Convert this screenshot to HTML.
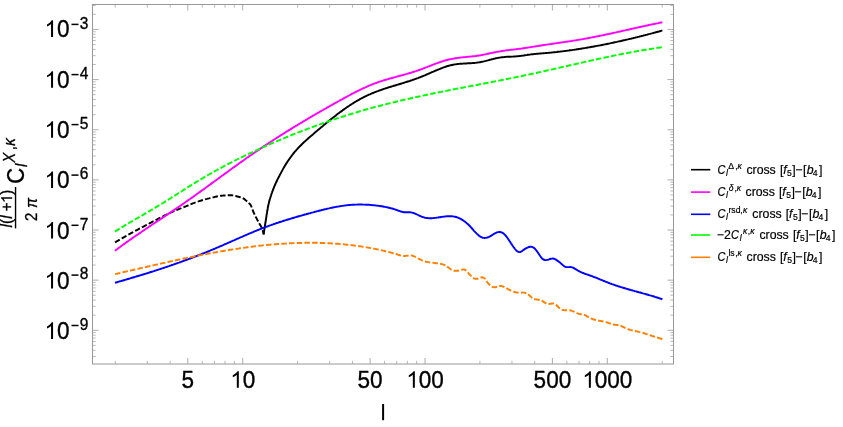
<!DOCTYPE html>
<html><head><meta charset="utf-8"><title>plot</title>
<style>
html,body{margin:0;padding:0;background:#fff;}
body{width:843px;height:427px;overflow:hidden;}
svg{display:block;font-family:"Liberation Sans",sans-serif;}
svg text{filter:grayscale(1);}
</style></head><body>
<svg width="843" height="427" viewBox="0 0 843 427">
<rect width="843" height="427" fill="#fff"/>
<g fill="none" stroke-width="1.95" stroke-linejoin="round">
<path d="M115.0,242.3 L115.9,241.8 L116.7,241.3 L117.6,240.8 L118.5,240.3 L119.3,239.8 L120.2,239.3 L121.1,238.8 L121.9,238.3 L122.8,237.8 L123.7,237.3 L124.6,236.8 L125.4,236.3 L126.3,235.9 L127.2,235.4 L128.0,234.9 L128.9,234.4 L129.8,233.9 L130.7,233.4 L131.5,232.9 L132.4,232.5 L133.3,232.0 L134.2,231.5 L135.0,231.0 L135.9,230.5 L136.8,230.1 L137.7,229.6 L138.6,229.1 L139.4,228.6 L140.3,228.2 L141.2,227.7 L142.1,227.2 L143.0,226.8 L143.9,226.3 L144.7,225.8 L145.6,225.4 L146.5,224.9 L147.4,224.4 L148.3,224.0 L149.2,223.5 L150.0,223.0 L150.9,222.6 L151.8,222.1 L152.7,221.6 L153.6,221.2 L154.5,220.7 L155.4,220.3 L156.3,219.8 L157.2,219.4 L158.0,218.9 L158.9,218.4 L159.8,218.0 L160.7,217.5 L161.6,217.1 L162.5,216.6 L163.4,216.2 L164.3,215.7 L165.2,215.2 L166.1,214.8 L167.0,214.3 L167.9,213.9 L168.7,213.5 L169.6,213.0 L170.6,212.6 L171.5,212.2 L172.4,211.8 L173.3,211.4 L174.2,211.0 L175.1,210.6 L176.0,210.2 L177.0,209.8 L177.9,209.5 L178.8,209.1 L179.8,208.7 L180.7,208.4 L181.6,208.0 L182.6,207.6 L183.5,207.3 L184.4,206.9 L185.4,206.5 L186.3,206.2 L187.2,205.8 L188.1,205.4 L189.1,205.0 L190.0,204.6 L190.9,204.2 L191.8,203.8 L192.7,203.4 L193.7,203.1 L194.6,202.7 L195.5,202.4 L196.5,202.0 L197.4,201.7 L198.4,201.4 L199.3,201.1 L200.3,200.8 L201.2,200.5 L202.2,200.2 L203.2,200.0 L204.1,199.7 L205.1,199.4 L206.0,199.1 L207.0,198.9 L208.0,198.6 L209.0,198.4 L209.9,198.1 L210.9,197.9 L211.9,197.6 L212.8,197.4 L213.8,197.2 L214.8,196.9 L215.8,196.7 L216.7,196.5 L217.7,196.3 L218.7,196.1 L219.7,195.9 L220.7,195.8 L221.7,195.7 L222.7,195.6 L223.7,195.5 L224.7,195.4 L225.7,195.4 L226.7,195.3 L227.7,195.3 L228.7,195.2 L229.7,195.2 L230.7,195.2 L231.6,195.3 L232.6,195.4 L233.6,195.6 L234.6,195.8 L235.6,196.0 L236.6,196.3 L237.5,196.5 L238.5,196.8 L239.5,197.0 L240.5,197.3 L241.4,197.6 L242.4,198.0 L243.2,198.4 L244.1,198.9 L244.9,199.5 L245.6,200.2 L246.4,200.8 L247.2,201.5 L247.9,202.2 L248.7,202.9 L249.4,203.6 L250.1,204.3 L250.6,205.1 L251.1,205.9 L251.5,206.8 L251.9,207.7 L252.2,208.7 L252.5,209.7 L252.9,210.6 L253.3,211.6 L253.6,212.5 L254.1,213.4 L254.5,214.3 L254.9,215.2 L255.4,216.1 L255.8,217.0 L256.3,217.9 L256.8,218.8 L257.2,219.7 L257.7,220.5 L258.1,221.4 L258.6,222.3 L259.1,223.2 L259.6,224.1 L260.1,224.9 L260.7,225.8 L261.2,226.7 L261.6,227.6 L262.0,228.5 L262.4,229.4 L262.7,230.3 L262.9,231.3 L263.2,232.2 L263.4,233.2 L263.6,234.2 L263.6,234.4" stroke="#000" stroke-dasharray="5.5 2.2"/>
<path d="M263.6,234.4 L263.8,233.4 L263.9,232.4 L264.1,231.4 L264.2,230.4 L264.4,229.5 L264.5,228.5 L264.7,227.5 L264.8,226.5 L265.0,225.5 L265.1,224.5 L265.3,223.5 L265.5,222.5 L265.6,221.6 L265.8,220.6 L265.9,219.6 L266.1,218.6 L266.2,217.6 L266.4,216.6 L266.5,215.6 L266.7,214.6 L266.8,213.6 L267.0,212.7 L267.1,211.7 L267.3,210.7 L267.5,209.7 L267.7,208.7 L267.8,207.7 L268.0,206.8 L268.2,205.8 L268.4,204.8 L268.7,203.8 L268.9,202.8 L269.1,201.9 L269.4,200.9 L269.6,199.9 L269.9,199.0 L270.2,198.0 L270.5,197.1 L270.8,196.1 L271.1,195.2 L271.4,194.2 L271.7,193.3 L272.1,192.3 L272.4,191.4 L272.8,190.4 L273.1,189.5 L273.5,188.6 L273.9,187.7 L274.2,186.7 L274.6,185.8 L275.0,184.9 L275.4,184.0 L275.8,183.1 L276.2,182.2 L276.7,181.3 L277.1,180.3 L277.5,179.4 L278.0,178.5 L278.4,177.7 L278.9,176.8 L279.4,175.9 L279.8,175.0 L279.9,174.9 L283.9,167.4 L284.9,165.7 L285.9,164.1 L286.9,162.6 L287.9,161.0 L288.9,159.6 L289.9,158.2 L290.9,156.8 L291.9,155.5 L292.9,154.2 L293.9,152.9 L294.9,151.7 L295.9,150.6 L296.9,149.4 L297.9,148.3 L298.9,147.3 L299.9,146.2 L300.9,145.2 L301.9,144.2 L302.9,143.3 L303.9,142.3 L304.9,141.4 L305.9,140.5 L306.9,139.6 L307.9,138.7 L308.9,137.8 L309.9,136.9 L310.9,136.1 L311.9,135.2 L312.9,134.4 L313.9,133.5 L314.9,132.6 L315.9,131.8 L316.9,130.9 L317.9,130.1 L318.9,129.2 L319.9,128.4 L320.9,127.6 L321.9,126.7 L322.9,125.9 L323.9,125.0 L324.9,124.2 L325.9,123.4 L326.9,122.6 L327.9,121.7 L328.9,120.9 L329.9,120.1 L330.9,119.3 L331.9,118.5 L332.9,117.7 L333.9,116.9 L334.9,116.2 L335.9,115.4 L336.9,114.6 L337.9,113.8 L338.9,113.1 L339.9,112.3 L340.9,111.6 L341.9,110.9 L342.9,110.1 L343.9,109.4 L344.9,108.7 L345.9,108.0 L346.9,107.3 L347.9,106.6 L348.9,106.0 L349.9,105.3 L350.9,104.6 L351.9,104.0 L352.9,103.4 L353.9,102.7 L354.9,102.1 L355.9,101.5 L356.9,100.9 L357.9,100.3 L358.9,99.8 L359.9,99.2 L360.9,98.7 L361.9,98.1 L362.9,97.6 L363.9,97.1 L364.9,96.6 L365.9,96.1 L366.9,95.6 L367.9,95.2 L368.9,94.7 L369.9,94.3 L370.9,93.8 L371.9,93.4 L372.9,93.0 L373.9,92.6 L374.9,92.2 L375.9,91.8 L376.9,91.4 L377.9,91.1 L378.9,90.7 L379.9,90.3 L380.9,90.0 L381.9,89.6 L382.9,89.3 L383.9,88.9 L384.9,88.6 L385.9,88.3 L386.9,88.0 L387.9,87.6 L388.9,87.3 L389.9,87.0 L390.9,86.7 L391.9,86.4 L392.9,86.1 L393.9,85.8 L394.9,85.5 L395.9,85.2 L396.9,84.9 L397.9,84.6 L398.9,84.3 L399.9,84.0 L400.9,83.7 L401.9,83.4 L402.9,83.1 L403.9,82.8 L404.9,82.4 L405.9,82.1 L406.9,81.8 L407.9,81.5 L408.9,81.2 L409.9,80.9 L410.9,80.5 L411.9,80.2 L412.9,79.8 L413.9,79.5 L414.9,79.1 L415.9,78.8 L416.9,78.4 L417.9,78.1 L418.9,77.7 L419.9,77.3 L420.9,76.9 L421.9,76.5 L422.9,76.1 L423.9,75.7 L424.9,75.3 L425.9,74.8 L426.9,74.4 L427.9,74.0 L428.9,73.5 L429.9,73.1 L430.9,72.7 L431.9,72.2 L432.9,71.8 L433.9,71.4 L434.9,70.9 L435.9,70.5 L436.9,70.1 L437.9,69.7 L438.9,69.3 L439.9,68.9 L440.9,68.5 L441.9,68.1 L442.9,67.7 L443.9,67.3 L444.9,67.0 L445.9,66.6 L446.9,66.3 L447.9,66.0 L448.9,65.7 L449.9,65.4 L450.9,65.2 L451.9,65.0 L452.9,64.8 L453.9,64.6 L454.9,64.4 L455.9,64.3 L456.9,64.1 L457.9,64.0 L458.9,63.9 L459.9,63.8 L460.9,63.7 L461.9,63.7 L462.9,63.6 L463.9,63.5 L464.9,63.5 L465.9,63.4 L466.9,63.4 L467.9,63.3 L468.9,63.3 L469.9,63.2 L470.9,63.2 L471.9,63.1 L472.9,63.0 L473.9,62.9 L474.9,62.9 L475.9,62.8 L476.9,62.6 L477.9,62.5 L478.9,62.4 L479.9,62.2 L480.9,62.0 L481.9,61.8 L482.9,61.6 L483.9,61.4 L484.9,61.1 L485.9,60.9 L486.9,60.6 L487.9,60.4 L488.9,60.1 L489.9,59.8 L490.9,59.6 L491.9,59.3 L492.9,59.1 L493.9,58.8 L494.9,58.6 L495.9,58.3 L496.9,58.1 L497.9,57.9 L498.9,57.7 L499.9,57.6 L500.9,57.4 L501.9,57.3 L502.9,57.2 L503.9,57.1 L504.9,57.0 L505.9,56.9 L506.9,56.8 L507.9,56.8 L508.9,56.7 L509.9,56.7 L510.9,56.7 L511.9,56.6 L512.9,56.6 L513.9,56.5 L514.9,56.5 L515.9,56.4 L516.9,56.3 L517.9,56.2 L518.9,56.1 L519.9,56.0 L520.9,55.9 L521.9,55.7 L522.9,55.6 L523.9,55.5 L524.9,55.3 L525.9,55.1 L526.9,55.0 L527.9,54.8 L528.9,54.7 L529.9,54.6 L530.9,54.4 L531.9,54.3 L532.9,54.2 L533.9,54.1 L534.9,54.0 L535.9,53.9 L536.9,53.8 L537.9,53.7 L538.9,53.6 L539.9,53.5 L540.9,53.5 L541.9,53.4 L542.9,53.3 L543.9,53.2 L544.9,53.1 L545.9,53.0 L546.9,53.0 L547.9,52.9 L548.9,52.8 L549.9,52.7 L550.9,52.6 L551.9,52.5 L552.9,52.4 L553.9,52.3 L554.9,52.2 L555.9,52.1 L556.9,52.0 L557.9,51.8 L558.9,51.7 L559.9,51.6 L560.9,51.5 L561.9,51.4 L562.9,51.3 L563.9,51.1 L564.9,51.0 L565.9,50.9 L566.9,50.7 L567.9,50.6 L568.9,50.5 L569.9,50.3 L570.9,50.2 L571.9,50.1 L572.9,49.9 L573.9,49.8 L574.9,49.6 L575.9,49.5 L576.9,49.3 L577.9,49.2 L578.9,49.0 L579.9,48.9 L580.9,48.7 L581.9,48.5 L582.9,48.4 L583.9,48.2 L584.9,48.1 L585.9,47.9 L586.9,47.7 L587.9,47.5 L588.9,47.4 L589.9,47.2 L590.9,47.0 L591.9,46.8 L592.9,46.7 L593.9,46.5 L594.9,46.3 L595.9,46.1 L596.9,45.9 L597.9,45.7 L598.9,45.6 L599.9,45.4 L600.9,45.2 L601.9,45.0 L602.9,44.8 L603.9,44.6 L604.9,44.4 L605.9,44.2 L606.9,44.0 L607.9,43.8 L608.9,43.6 L609.9,43.4 L610.9,43.1 L611.9,42.9 L612.9,42.7 L613.9,42.5 L614.9,42.3 L615.9,42.1 L616.9,41.9 L617.9,41.6 L618.9,41.4 L619.9,41.2 L620.9,41.0 L621.9,40.7 L622.9,40.5 L623.9,40.3 L624.9,40.1 L625.9,39.8 L626.9,39.6 L627.9,39.4 L628.9,39.1 L629.9,38.9 L630.9,38.7 L631.9,38.4 L632.9,38.2 L633.9,37.9 L634.9,37.7 L635.9,37.4 L636.9,37.2 L637.9,36.9 L638.9,36.7 L639.9,36.4 L640.9,36.2 L641.9,35.9 L642.9,35.7 L643.9,35.4 L644.9,35.2 L645.9,34.9 L646.9,34.7 L647.9,34.4 L648.9,34.1 L649.9,33.9 L650.9,33.6 L651.9,33.4 L652.9,33.1 L653.9,32.8 L654.9,32.6 L655.9,32.3 L656.9,32.0 L657.9,31.7 L658.9,31.5 L659.9,31.2 L660.9,30.9 L661.9,30.6 L662.4,30.5" stroke="#000"/>
<path d="M115.0,250.7 L116.0,249.9 L117.0,249.2 L118.0,248.4 L119.0,247.7 L120.0,247.0 L121.0,246.2 L122.0,245.5 L123.0,244.8 L124.0,244.1 L125.0,243.4 L126.0,242.6 L127.0,241.9 L128.0,241.2 L129.0,240.5 L130.0,239.8 L131.0,239.1 L132.0,238.4 L133.0,237.7 L134.0,237.0 L135.0,236.3 L136.0,235.6 L137.0,234.9 L138.0,234.3 L139.0,233.6 L140.0,232.9 L141.0,232.2 L142.0,231.5 L143.0,230.9 L144.0,230.2 L145.0,229.5 L146.0,228.8 L147.0,228.1 L148.0,227.5 L149.0,226.8 L150.0,226.1 L151.0,225.5 L152.0,224.8 L153.0,224.1 L154.0,223.5 L155.0,222.8 L156.0,222.1 L157.0,221.5 L158.0,220.8 L159.0,220.1 L160.0,219.4 L161.0,218.8 L162.0,218.1 L163.0,217.4 L164.0,216.8 L165.0,216.1 L166.0,215.4 L167.0,214.8 L168.0,214.1 L169.0,213.4 L170.0,212.8 L171.0,212.1 L172.0,211.4 L173.0,210.7 L174.0,210.1 L175.0,209.4 L176.0,208.7 L177.0,208.0 L178.0,207.3 L179.0,206.7 L180.0,206.0 L181.0,205.3 L182.0,204.6 L183.0,203.9 L184.0,203.2 L185.0,202.5 L186.0,201.8 L187.0,201.1 L188.0,200.4 L189.0,199.7 L190.0,199.0 L191.0,198.3 L192.0,197.6 L193.0,196.9 L194.0,196.2 L195.0,195.5 L196.0,194.7 L197.0,194.0 L198.0,193.3 L199.0,192.6 L200.0,191.9 L201.0,191.1 L202.0,190.4 L203.0,189.7 L204.0,189.0 L205.0,188.2 L206.0,187.5 L207.0,186.8 L208.0,186.1 L209.0,185.3 L210.0,184.6 L211.0,183.9 L212.0,183.1 L213.0,182.4 L214.0,181.7 L215.0,180.9 L216.0,180.2 L217.0,179.5 L218.0,178.8 L219.0,178.0 L220.0,177.3 L221.0,176.6 L222.0,175.8 L223.0,175.1 L224.0,174.4 L225.0,173.6 L226.0,172.9 L227.0,172.2 L228.0,171.5 L229.0,170.7 L230.0,170.0 L231.0,169.3 L232.0,168.5 L233.0,167.8 L234.0,167.1 L235.0,166.4 L236.0,165.7 L237.0,164.9 L238.0,164.2 L239.0,163.5 L240.0,162.8 L241.0,162.1 L242.0,161.4 L243.0,160.7 L244.0,160.0 L245.0,159.2 L246.0,158.5 L247.0,157.8 L248.0,157.1 L249.0,156.4 L250.0,155.7 L251.0,155.0 L252.0,154.4 L253.0,153.7 L254.0,153.0 L255.0,152.3 L256.0,151.6 L257.0,150.9 L258.0,150.3 L259.0,149.6 L260.0,148.9 L261.0,148.2 L262.0,147.6 L263.0,146.9 L264.0,146.2 L265.0,145.6 L266.0,144.9 L267.0,144.2 L268.0,143.6 L269.0,142.9 L270.0,142.3 L271.0,141.6 L272.0,141.0 L273.0,140.3 L274.0,139.7 L275.0,139.0 L276.0,138.4 L277.0,137.7 L278.0,137.1 L279.0,136.5 L280.0,135.8 L281.0,135.2 L282.0,134.6 L283.0,133.9 L284.0,133.3 L285.0,132.7 L286.0,132.0 L287.0,131.4 L288.0,130.8 L289.0,130.2 L290.0,129.6 L291.0,128.9 L292.0,128.3 L293.0,127.7 L294.0,127.1 L295.0,126.5 L296.0,125.9 L297.0,125.3 L298.0,124.7 L299.0,124.1 L300.0,123.5 L301.0,122.9 L302.0,122.3 L303.0,121.7 L304.0,121.1 L305.0,120.5 L306.0,119.9 L307.0,119.3 L308.0,118.7 L309.0,118.1 L310.0,117.5 L311.0,116.9 L312.0,116.3 L313.0,115.7 L314.0,115.2 L315.0,114.6 L316.0,114.0 L317.0,113.4 L318.0,112.8 L319.0,112.3 L320.0,111.7 L321.0,111.1 L322.0,110.5 L323.0,110.0 L324.0,109.4 L325.0,108.8 L326.0,108.3 L327.0,107.7 L328.0,107.1 L329.0,106.6 L330.0,106.0 L331.0,105.4 L332.0,104.9 L333.0,104.3 L334.0,103.7 L335.0,103.2 L336.0,102.6 L337.0,102.1 L338.0,101.5 L339.0,101.0 L340.0,100.4 L341.0,99.9 L342.0,99.3 L343.0,98.8 L344.0,98.2 L345.0,97.7 L346.0,97.1 L347.0,96.6 L348.0,96.0 L349.0,95.5 L350.0,95.0 L351.0,94.4 L352.0,93.9 L353.0,93.4 L354.0,92.9 L355.0,92.4 L356.0,91.8 L357.0,91.3 L358.0,90.8 L359.0,90.3 L360.0,89.9 L361.0,89.4 L362.0,88.9 L363.0,88.4 L364.0,88.0 L365.0,87.5 L366.0,87.1 L367.0,86.6 L368.0,86.2 L369.0,85.7 L370.0,85.3 L371.0,84.9 L372.0,84.5 L373.0,84.1 L374.0,83.7 L375.0,83.3 L376.0,83.0 L377.0,82.6 L378.0,82.3 L379.0,81.9 L380.0,81.6 L381.0,81.3 L382.0,80.9 L383.0,80.6 L384.0,80.3 L385.0,80.0 L386.0,79.7 L387.0,79.4 L388.0,79.1 L389.0,78.8 L390.0,78.5 L391.0,78.3 L392.0,78.0 L393.0,77.7 L394.0,77.4 L395.0,77.2 L396.0,76.9 L397.0,76.6 L398.0,76.3 L399.0,76.1 L400.0,75.8 L401.0,75.5 L402.0,75.3 L403.0,75.0 L404.0,74.7 L405.0,74.4 L406.0,74.1 L407.0,73.9 L408.0,73.6 L409.0,73.3 L410.0,73.0 L411.0,72.7 L412.0,72.4 L413.0,72.0 L414.0,71.7 L415.0,71.4 L416.0,71.1 L417.0,70.7 L418.0,70.4 L419.0,70.0 L420.0,69.7 L421.0,69.3 L422.0,69.0 L423.0,68.6 L424.0,68.2 L425.0,67.8 L426.0,67.4 L427.0,67.1 L428.0,66.7 L429.0,66.3 L430.0,65.9 L431.0,65.5 L432.0,65.1 L433.0,64.7 L434.0,64.3 L435.0,63.9 L436.0,63.6 L437.0,63.2 L438.0,62.8 L439.0,62.5 L440.0,62.1 L441.0,61.8 L442.0,61.5 L443.0,61.1 L444.0,60.8 L445.0,60.5 L446.0,60.3 L447.0,60.0 L448.0,59.7 L449.0,59.5 L450.0,59.3 L451.0,59.1 L452.0,58.9 L453.0,58.7 L454.0,58.5 L455.0,58.3 L456.0,58.2 L457.0,58.0 L458.0,57.9 L459.0,57.8 L460.0,57.6 L461.0,57.5 L462.0,57.4 L463.0,57.3 L464.0,57.2 L465.0,57.1 L466.0,57.0 L467.0,56.9 L468.0,56.8 L469.0,56.7 L470.0,56.6 L471.0,56.5 L472.0,56.4 L473.0,56.3 L474.0,56.2 L475.0,56.1 L476.0,56.0 L477.0,55.8 L478.0,55.7 L479.0,55.5 L480.0,55.4 L481.0,55.2 L482.0,55.0 L483.0,54.8 L484.0,54.6 L485.0,54.4 L486.0,54.2 L487.0,53.9 L488.0,53.7 L489.0,53.5 L490.0,53.3 L491.0,53.1 L492.0,52.9 L493.0,52.7 L494.0,52.5 L495.0,52.3 L496.0,52.1 L497.0,51.9 L498.0,51.7 L499.0,51.6 L500.0,51.4 L501.0,51.2 L502.0,51.0 L503.0,50.9 L504.0,50.7 L505.0,50.6 L506.0,50.4 L507.0,50.3 L508.0,50.2 L509.0,50.1 L510.0,49.9 L511.0,49.8 L512.0,49.7 L513.0,49.6 L514.0,49.5 L515.0,49.4 L516.0,49.2 L517.0,49.1 L518.0,49.0 L519.0,48.9 L520.0,48.7 L521.0,48.6 L522.0,48.5 L523.0,48.3 L524.0,48.2 L525.0,48.0 L526.0,47.9 L527.0,47.7 L528.0,47.6 L529.0,47.4 L530.0,47.3 L531.0,47.1 L532.0,46.9 L533.0,46.8 L534.0,46.6 L535.0,46.5 L536.0,46.3 L537.0,46.1 L538.0,46.0 L539.0,45.8 L540.0,45.7 L541.0,45.5 L542.0,45.3 L543.0,45.2 L544.0,45.0 L545.0,44.9 L546.0,44.7 L547.0,44.6 L548.0,44.4 L549.0,44.3 L550.0,44.1 L551.0,44.0 L552.0,43.8 L553.0,43.7 L554.0,43.5 L555.0,43.4 L556.0,43.3 L557.0,43.1 L558.0,43.0 L559.0,42.8 L560.0,42.7 L561.0,42.5 L562.0,42.4 L563.0,42.2 L564.0,42.1 L565.0,41.9 L566.0,41.8 L567.0,41.7 L568.0,41.5 L569.0,41.4 L570.0,41.2 L571.0,41.1 L572.0,40.9 L573.0,40.7 L574.0,40.6 L575.0,40.4 L576.0,40.3 L577.0,40.1 L578.0,39.9 L579.0,39.8 L580.0,39.6 L581.0,39.4 L582.0,39.3 L583.0,39.1 L584.0,38.9 L585.0,38.7 L586.0,38.5 L587.0,38.4 L588.0,38.2 L589.0,38.0 L590.0,37.8 L591.0,37.6 L592.0,37.4 L593.0,37.2 L594.0,37.0 L595.0,36.8 L596.0,36.6 L597.0,36.4 L598.0,36.2 L599.0,36.0 L600.0,35.8 L601.0,35.6 L602.0,35.4 L603.0,35.2 L604.0,35.0 L605.0,34.8 L606.0,34.5 L607.0,34.3 L608.0,34.1 L609.0,33.9 L610.0,33.7 L611.0,33.5 L612.0,33.3 L613.0,33.0 L614.0,32.8 L615.0,32.6 L616.0,32.4 L617.0,32.1 L618.0,31.9 L619.0,31.7 L620.0,31.5 L621.0,31.3 L622.0,31.0 L623.0,30.8 L624.0,30.6 L625.0,30.4 L626.0,30.1 L627.0,29.9 L628.0,29.7 L629.0,29.5 L630.0,29.2 L631.0,29.0 L632.0,28.8 L633.0,28.6 L634.0,28.3 L635.0,28.1 L636.0,27.9 L637.0,27.7 L638.0,27.4 L639.0,27.2 L640.0,27.0 L641.0,26.8 L642.0,26.6 L643.0,26.3 L644.0,26.1 L645.0,25.9 L646.0,25.7 L647.0,25.5 L648.0,25.2 L649.0,25.0 L650.0,24.8 L651.0,24.6 L652.0,24.4 L653.0,24.2 L654.0,24.0 L655.0,23.8 L656.0,23.6 L657.0,23.4 L658.0,23.2 L659.0,22.9 L660.0,22.7 L661.0,22.5 L662.0,22.4 L662.4,22.3" stroke="#ff00ff"/>
<path d="M115.0,282.8 L116.0,282.5 L117.0,282.2 L118.0,281.9 L119.0,281.6 L120.0,281.3 L121.0,281.1 L122.0,280.8 L123.0,280.5 L124.0,280.2 L125.0,279.9 L126.0,279.6 L127.0,279.3 L128.0,279.0 L129.0,278.7 L130.0,278.4 L131.0,278.1 L132.0,277.8 L133.0,277.5 L134.0,277.2 L135.0,276.9 L136.0,276.6 L137.0,276.3 L138.0,276.0 L139.0,275.7 L140.0,275.4 L141.0,275.1 L142.0,274.8 L143.0,274.5 L144.0,274.2 L145.0,273.9 L146.0,273.6 L147.0,273.3 L148.0,273.0 L149.0,272.6 L150.0,272.3 L151.0,272.0 L152.0,271.7 L153.0,271.4 L154.0,271.1 L155.0,270.7 L156.0,270.4 L157.0,270.1 L158.0,269.8 L159.0,269.4 L160.0,269.1 L161.0,268.8 L162.0,268.4 L163.0,268.1 L164.0,267.8 L165.0,267.4 L166.0,267.1 L167.0,266.8 L168.0,266.4 L169.0,266.1 L170.0,265.7 L171.0,265.4 L172.0,265.0 L173.0,264.7 L174.0,264.3 L175.0,264.0 L176.0,263.6 L177.0,263.3 L178.0,262.9 L179.0,262.6 L180.0,262.2 L181.0,261.9 L182.0,261.5 L183.0,261.1 L184.0,260.8 L185.0,260.4 L186.0,260.0 L187.0,259.7 L188.0,259.3 L189.0,258.9 L190.0,258.5 L191.0,258.2 L192.0,257.8 L193.0,257.4 L194.0,257.0 L195.0,256.6 L196.0,256.3 L197.0,255.9 L198.0,255.5 L199.0,255.1 L200.0,254.7 L201.0,254.3 L202.0,253.9 L203.0,253.5 L204.0,253.1 L205.0,252.7 L206.0,252.3 L207.0,251.9 L208.0,251.5 L209.0,251.1 L210.0,250.7 L211.0,250.2 L212.0,249.8 L213.0,249.4 L214.0,249.0 L215.0,248.6 L216.0,248.1 L217.0,247.7 L218.0,247.3 L219.0,246.9 L220.0,246.4 L221.0,246.0 L222.0,245.6 L223.0,245.1 L224.0,244.7 L225.0,244.2 L226.0,243.8 L227.0,243.4 L228.0,242.9 L229.0,242.5 L230.0,242.0 L231.0,241.6 L232.0,241.2 L233.0,240.7 L234.0,240.3 L235.0,239.8 L236.0,239.4 L237.0,238.9 L238.0,238.5 L239.0,238.1 L240.0,237.6 L241.0,237.2 L242.0,236.8 L243.0,236.3 L244.0,235.9 L245.0,235.5 L246.0,235.0 L247.0,234.6 L248.0,234.2 L249.0,233.7 L250.0,233.3 L251.0,232.9 L252.0,232.5 L253.0,232.1 L254.0,231.6 L255.0,231.2 L256.0,230.8 L257.0,230.4 L258.0,230.0 L259.0,229.6 L260.0,229.2 L261.0,228.8 L262.0,228.4 L263.0,228.0 L264.0,227.7 L265.0,227.3 L266.0,226.9 L267.0,226.5 L268.0,226.2 L269.0,225.8 L270.0,225.4 L271.0,225.1 L272.0,224.7 L273.0,224.4 L274.0,224.0 L275.0,223.7 L276.0,223.3 L277.0,223.0 L278.0,222.7 L279.0,222.3 L280.0,222.0 L281.0,221.7 L282.0,221.4 L283.0,221.0 L284.0,220.7 L285.0,220.4 L286.0,220.1 L287.0,219.8 L288.0,219.5 L289.0,219.2 L290.0,218.9 L291.0,218.6 L292.0,218.3 L293.0,218.0 L294.0,217.7 L295.0,217.4 L296.0,217.1 L297.0,216.8 L298.0,216.5 L299.0,216.2 L300.0,215.9 L301.0,215.7 L302.0,215.4 L303.0,215.1 L304.0,214.8 L305.0,214.5 L306.0,214.3 L307.0,214.0 L308.0,213.7 L309.0,213.4 L310.0,213.2 L311.0,212.9 L312.0,212.6 L313.0,212.4 L314.0,212.1 L315.0,211.8 L316.0,211.6 L317.0,211.3 L318.0,211.1 L319.0,210.8 L320.0,210.5 L321.0,210.3 L322.0,210.0 L323.0,209.8 L324.0,209.5 L325.0,209.3 L326.0,209.1 L327.0,208.8 L328.0,208.6 L329.0,208.4 L330.0,208.1 L331.0,207.9 L332.0,207.7 L333.0,207.5 L334.0,207.3 L335.0,207.1 L336.0,206.9 L337.0,206.7 L338.0,206.6 L339.0,206.4 L340.0,206.2 L341.0,206.1 L342.0,205.9 L343.0,205.8 L344.0,205.6 L345.0,205.5 L346.0,205.4 L347.0,205.2 L348.0,205.1 L349.0,205.0 L350.0,205.0 L351.0,204.9 L352.0,204.8 L353.0,204.7 L354.0,204.7 L355.0,204.6 L356.0,204.6 L357.0,204.6 L358.0,204.5 L359.0,204.5 L360.0,204.5 L361.0,204.5 L362.0,204.5 L363.0,204.6 L364.0,204.6 L365.0,204.6 L366.0,204.7 L367.0,204.7 L368.0,204.8 L369.0,204.8 L370.0,204.9 L371.0,205.0 L372.0,205.1 L373.0,205.2 L374.0,205.3 L375.0,205.4 L376.0,205.5 L377.0,205.6 L378.0,205.7 L379.0,205.9 L380.0,206.0 L381.0,206.2 L382.0,206.3 L383.0,206.5 L384.0,206.7 L385.0,206.9 L386.0,207.1 L387.0,207.3 L388.0,207.5 L389.0,207.7 L390.0,208.0 L391.0,208.3 L392.0,208.5 L393.0,208.8 L394.0,209.1 L395.0,209.4 L396.0,209.8 L397.0,210.1 L398.0,210.5 L399.0,210.8 L400.0,211.2 L401.0,211.5 L402.0,211.8 L403.0,212.0 L404.0,212.2 L405.0,212.3 L406.0,212.3 L407.0,212.3 L408.0,212.2 L409.0,212.2 L410.0,212.3 L411.0,212.4 L412.0,212.6 L413.0,212.9 L414.0,213.2 L415.0,213.6 L416.0,214.0 L417.0,214.5 L418.0,215.0 L419.0,215.5 L420.0,215.9 L421.0,216.4 L422.0,216.8 L423.0,217.1 L424.0,217.4 L425.0,217.7 L426.0,217.9 L427.0,218.0 L428.0,218.1 L429.0,218.2 L430.0,218.2 L431.0,218.2 L432.0,218.2 L433.0,218.1 L434.0,218.0 L435.0,217.9 L436.0,217.8 L437.0,217.6 L438.0,217.5 L439.0,217.3 L440.0,217.2 L441.0,217.0 L442.0,216.9 L443.0,216.7 L444.0,216.6 L445.0,216.5 L446.0,216.4 L447.0,216.3 L448.0,216.2 L449.0,216.2 L450.0,216.2 L451.0,216.2 L452.0,216.3 L453.0,216.4 L454.0,216.6 L455.0,216.8 L456.0,217.0 L457.0,217.3 L458.0,217.7 L459.0,218.1 L460.0,218.5 L461.0,219.1 L462.0,219.7 L463.0,220.3 L464.0,221.0 L465.0,221.8 L466.0,222.6 L467.0,223.4 L468.0,224.3 L469.0,225.3 L470.0,226.3 L471.0,227.4 L472.0,228.5 L473.0,229.6 L474.0,230.8 L475.0,231.9 L476.0,232.9 L477.0,233.9 L478.0,234.8 L479.0,235.7 L480.0,236.4 L481.0,237.0 L482.0,237.4 L483.0,237.7 L484.0,237.9 L485.0,237.9 L486.0,237.8 L487.0,237.6 L488.0,237.3 L489.0,236.9 L490.0,236.4 L491.0,235.8 L492.0,235.2 L493.0,234.5 L494.0,233.8 L495.0,233.3 L496.0,232.8 L497.0,232.4 L498.0,232.1 L499.0,232.0 L500.0,232.0 L501.0,232.2 L502.0,232.6 L503.0,233.1 L504.0,233.9 L505.0,234.9 L506.0,236.0 L507.0,237.3 L508.0,238.7 L509.0,240.2 L510.0,241.7 L511.0,243.3 L512.0,244.8 L513.0,246.3 L514.0,247.7 L515.0,249.0 L516.0,250.2 L517.0,251.1 L518.0,251.7 L519.0,252.1 L520.0,252.1 L521.0,251.7 L522.0,251.1 L523.0,250.3 L524.0,249.6 L525.0,248.9 L526.0,248.3 L527.0,247.8 L528.0,247.4 L529.0,247.0 L530.0,246.8 L531.0,246.8 L532.0,246.9 L533.0,247.3 L534.0,247.9 L535.0,248.8 L536.0,250.0 L537.0,251.3 L538.0,252.8 L539.0,254.3 L540.0,255.8 L541.0,257.2 L542.0,258.4 L543.0,259.2 L544.0,259.8 L545.0,260.0 L546.0,260.1 L547.0,259.9 L548.0,259.7 L549.0,259.4 L550.0,259.0 L551.0,258.8 L552.0,258.6 L553.0,258.5 L554.0,258.7 L555.0,259.1 L556.0,259.7 L557.0,260.4 L558.0,261.1 L559.0,261.8 L560.0,262.6 L561.0,263.5 L562.0,264.4 L563.0,265.3 L564.0,266.1 L565.0,266.6 L566.0,267.0 L567.0,267.1 L568.0,267.1 L569.0,267.1 L570.0,267.0 L571.0,267.1 L572.0,267.3 L573.0,267.7 L574.0,268.2 L575.0,268.8 L576.0,269.4 L577.0,270.0 L578.0,270.6 L579.0,271.1 L580.0,271.7 L581.0,272.2 L582.0,272.6 L583.0,273.0 L584.0,273.4 L585.0,273.8 L586.0,274.1 L587.0,274.4 L588.0,274.8 L589.0,275.1 L590.0,275.5 L591.0,275.8 L592.0,276.2 L593.0,276.6 L594.0,277.0 L595.0,277.3 L596.0,277.7 L597.0,278.1 L598.0,278.5 L599.0,279.0 L600.0,279.4 L601.0,279.8 L602.0,280.2 L603.0,280.6 L604.0,281.0 L605.0,281.4 L606.0,281.8 L607.0,282.2 L608.0,282.6 L609.0,283.0 L610.0,283.4 L611.0,283.7 L612.0,284.1 L613.0,284.4 L614.0,284.8 L615.0,285.1 L616.0,285.5 L617.0,285.8 L618.0,286.2 L619.0,286.5 L620.0,286.8 L621.0,287.1 L622.0,287.4 L623.0,287.7 L624.0,288.0 L625.0,288.3 L626.0,288.6 L627.0,288.9 L628.0,289.2 L629.0,289.5 L630.0,289.8 L631.0,290.1 L632.0,290.3 L633.0,290.6 L634.0,290.9 L635.0,291.2 L636.0,291.4 L637.0,291.7 L638.0,292.0 L639.0,292.3 L640.0,292.5 L641.0,292.8 L642.0,293.1 L643.0,293.4 L644.0,293.6 L645.0,293.9 L646.0,294.2 L647.0,294.5 L648.0,294.8 L649.0,295.1 L650.0,295.4 L651.0,295.6 L652.0,295.9 L653.0,296.2 L654.0,296.5 L655.0,296.9 L656.0,297.2 L657.0,297.5 L658.0,297.8 L659.0,298.1 L660.0,298.5 L661.0,298.8 L662.0,299.1 L662.4,299.3" stroke="#0000ff"/>
<path d="M115.0,231.5 L116.0,230.9 L117.0,230.3 L118.0,229.7 L119.0,229.1 L120.0,228.4 L121.0,227.8 L122.0,227.2 L123.0,226.6 L124.0,226.0 L125.0,225.4 L126.0,224.8 L127.0,224.2 L128.0,223.6 L129.0,223.0 L130.0,222.4 L131.0,221.9 L132.0,221.3 L133.0,220.7 L134.0,220.1 L135.0,219.5 L136.0,218.9 L137.0,218.4 L138.0,217.8 L139.0,217.2 L140.0,216.6 L141.0,216.0 L142.0,215.5 L143.0,214.9 L144.0,214.3 L145.0,213.7 L146.0,213.1 L147.0,212.5 L148.0,212.0 L149.0,211.4 L150.0,210.8 L151.0,210.2 L152.0,209.6 L153.0,209.0 L154.0,208.4 L155.0,207.8 L156.0,207.2 L157.0,206.6 L158.0,206.0 L159.0,205.4 L160.0,204.8 L161.0,204.2 L162.0,203.6 L163.0,203.0 L164.0,202.4 L165.0,201.7 L166.0,201.1 L167.0,200.5 L168.0,199.9 L169.0,199.2 L170.0,198.6 L171.0,198.0 L172.0,197.3 L173.0,196.7 L174.0,196.1 L175.0,195.4 L176.0,194.8 L177.0,194.2 L178.0,193.5 L179.0,192.9 L180.0,192.2 L181.0,191.6 L182.0,191.0 L183.0,190.3 L184.0,189.7 L185.0,189.1 L186.0,188.4 L187.0,187.8 L188.0,187.2 L189.0,186.5 L190.0,185.9 L191.0,185.3 L192.0,184.7 L193.0,184.0 L194.0,183.4 L195.0,182.8 L196.0,182.2 L197.0,181.6 L198.0,181.0 L199.0,180.4 L200.0,179.8 L201.0,179.2 L202.0,178.6 L203.0,178.0 L204.0,177.4 L205.0,176.8 L206.0,176.2 L207.0,175.6 L208.0,175.0 L209.0,174.5 L210.0,173.9 L211.0,173.3 L212.0,172.8 L213.0,172.2 L214.0,171.6 L215.0,171.1 L216.0,170.5 L217.0,170.0 L218.0,169.4 L219.0,168.9 L220.0,168.4 L221.0,167.8 L222.0,167.3 L223.0,166.7 L224.0,166.2 L225.0,165.7 L226.0,165.2 L227.0,164.6 L228.0,164.1 L229.0,163.6 L230.0,163.1 L231.0,162.6 L232.0,162.1 L233.0,161.5 L234.0,161.0 L235.0,160.5 L236.0,160.0 L237.0,159.5 L238.0,159.0 L239.0,158.5 L240.0,158.1 L241.0,157.6 L242.0,157.1 L243.0,156.6 L244.0,156.1 L245.0,155.6 L246.0,155.1 L247.0,154.7 L248.0,154.2 L249.0,153.7 L250.0,153.2 L251.0,152.8 L252.0,152.3 L253.0,151.8 L254.0,151.4 L255.0,150.9 L256.0,150.5 L257.0,150.0 L258.0,149.5 L259.0,149.1 L260.0,148.6 L261.0,148.2 L262.0,147.7 L263.0,147.3 L264.0,146.8 L265.0,146.4 L266.0,145.9 L267.0,145.5 L268.0,145.1 L269.0,144.6 L270.0,144.2 L271.0,143.7 L272.0,143.3 L273.0,142.9 L274.0,142.4 L275.0,142.0 L276.0,141.6 L277.0,141.2 L278.0,140.7 L279.0,140.3 L280.0,139.9 L281.0,139.5 L282.0,139.1 L283.0,138.6 L284.0,138.2 L285.0,137.8 L286.0,137.4 L287.0,137.0 L288.0,136.6 L289.0,136.2 L290.0,135.8 L291.0,135.4 L292.0,134.9 L293.0,134.5 L294.0,134.1 L295.0,133.7 L296.0,133.4 L297.0,133.0 L298.0,132.6 L299.0,132.2 L300.0,131.8 L301.0,131.4 L302.0,131.0 L303.0,130.6 L304.0,130.2 L305.0,129.8 L306.0,129.5 L307.0,129.1 L308.0,128.7 L309.0,128.3 L310.0,128.0 L311.0,127.6 L312.0,127.2 L313.0,126.8 L314.0,126.5 L315.0,126.1 L316.0,125.7 L317.0,125.4 L318.0,125.0 L319.0,124.7 L320.0,124.3 L321.0,123.9 L322.0,123.6 L323.0,123.2 L324.0,122.9 L325.0,122.5 L326.0,122.2 L327.0,121.8 L328.0,121.5 L329.0,121.1 L330.0,120.8 L331.0,120.5 L332.0,120.1 L333.0,119.8 L334.0,119.4 L335.0,119.1 L336.0,118.8 L337.0,118.4 L338.0,118.1 L339.0,117.8 L340.0,117.5 L341.0,117.1 L342.0,116.8 L343.0,116.5 L344.0,116.2 L345.0,115.9 L346.0,115.5 L347.0,115.2 L348.0,114.9 L349.0,114.6 L350.0,114.3 L351.0,114.0 L352.0,113.7 L353.0,113.4 L354.0,113.1 L355.0,112.8 L356.0,112.5 L357.0,112.2 L358.0,111.9 L359.0,111.6 L360.0,111.3 L361.0,111.0 L362.0,110.7 L363.0,110.4 L364.0,110.1 L365.0,109.8 L366.0,109.5 L367.0,109.3 L368.0,109.0 L369.0,108.7 L370.0,108.4 L371.0,108.1 L372.0,107.9 L373.0,107.6 L374.0,107.3 L375.0,107.0 L376.0,106.8 L377.0,106.5 L378.0,106.2 L379.0,106.0 L380.0,105.7 L381.0,105.5 L382.0,105.2 L383.0,104.9 L384.0,104.7 L385.0,104.4 L386.0,104.2 L387.0,103.9 L388.0,103.7 L389.0,103.4 L390.0,103.2 L391.0,102.9 L392.0,102.7 L393.0,102.4 L394.0,102.2 L395.0,102.0 L396.0,101.7 L397.0,101.5 L398.0,101.2 L399.0,101.0 L400.0,100.8 L401.0,100.5 L402.0,100.3 L403.0,100.1 L404.0,99.8 L405.0,99.6 L406.0,99.4 L407.0,99.1 L408.0,98.9 L409.0,98.7 L410.0,98.5 L411.0,98.2 L412.0,98.0 L413.0,97.8 L414.0,97.6 L415.0,97.3 L416.0,97.1 L417.0,96.9 L418.0,96.7 L419.0,96.5 L420.0,96.3 L421.0,96.0 L422.0,95.8 L423.0,95.6 L424.0,95.4 L425.0,95.2 L426.0,95.0 L427.0,94.8 L428.0,94.6 L429.0,94.4 L430.0,94.1 L431.0,93.9 L432.0,93.7 L433.0,93.5 L434.0,93.3 L435.0,93.1 L436.0,92.9 L437.0,92.7 L438.0,92.5 L439.0,92.3 L440.0,92.1 L441.0,91.9 L442.0,91.7 L443.0,91.5 L444.0,91.3 L445.0,91.1 L446.0,90.9 L447.0,90.7 L448.0,90.5 L449.0,90.3 L450.0,90.1 L451.0,89.9 L452.0,89.7 L453.0,89.5 L454.0,89.3 L455.0,89.1 L456.0,88.9 L457.0,88.7 L458.0,88.5 L459.0,88.4 L460.0,88.2 L461.0,88.0 L462.0,87.8 L463.0,87.6 L464.0,87.4 L465.0,87.2 L466.0,87.0 L467.0,86.8 L468.0,86.6 L469.0,86.4 L470.0,86.2 L471.0,86.0 L472.0,85.8 L473.0,85.7 L474.0,85.5 L475.0,85.3 L476.0,85.1 L477.0,84.9 L478.0,84.7 L479.0,84.5 L480.0,84.3 L481.0,84.1 L482.0,83.9 L483.0,83.7 L484.0,83.5 L485.0,83.3 L486.0,83.2 L487.0,83.0 L488.0,82.8 L489.0,82.6 L490.0,82.4 L491.0,82.2 L492.0,82.0 L493.0,81.8 L494.0,81.6 L495.0,81.4 L496.0,81.2 L497.0,81.0 L498.0,80.8 L499.0,80.6 L500.0,80.4 L501.0,80.2 L502.0,80.0 L503.0,79.8 L504.0,79.6 L505.0,79.4 L506.0,79.2 L507.0,79.0 L508.0,78.8 L509.0,78.6 L510.0,78.4 L511.0,78.2 L512.0,78.0 L513.0,77.8 L514.0,77.6 L515.0,77.4 L516.0,77.2 L517.0,77.0 L518.0,76.8 L519.0,76.6 L520.0,76.4 L521.0,76.2 L522.0,76.0 L523.0,75.8 L524.0,75.5 L525.0,75.3 L526.0,75.1 L527.0,74.9 L528.0,74.7 L529.0,74.5 L530.0,74.3 L531.0,74.0 L532.0,73.8 L533.0,73.6 L534.0,73.4 L535.0,73.2 L536.0,73.0 L537.0,72.7 L538.0,72.5 L539.0,72.3 L540.0,72.1 L541.0,71.9 L542.0,71.6 L543.0,71.4 L544.0,71.2 L545.0,71.0 L546.0,70.7 L547.0,70.5 L548.0,70.3 L549.0,70.1 L550.0,69.8 L551.0,69.6 L552.0,69.4 L553.0,69.2 L554.0,68.9 L555.0,68.7 L556.0,68.5 L557.0,68.3 L558.0,68.0 L559.0,67.8 L560.0,67.6 L561.0,67.3 L562.0,67.1 L563.0,66.9 L564.0,66.7 L565.0,66.4 L566.0,66.2 L567.0,66.0 L568.0,65.8 L569.0,65.5 L570.0,65.3 L571.0,65.1 L572.0,64.8 L573.0,64.6 L574.0,64.4 L575.0,64.2 L576.0,63.9 L577.0,63.7 L578.0,63.5 L579.0,63.3 L580.0,63.0 L581.0,62.8 L582.0,62.6 L583.0,62.4 L584.0,62.1 L585.0,61.9 L586.0,61.7 L587.0,61.5 L588.0,61.2 L589.0,61.0 L590.0,60.8 L591.0,60.6 L592.0,60.3 L593.0,60.1 L594.0,59.9 L595.0,59.7 L596.0,59.5 L597.0,59.2 L598.0,59.0 L599.0,58.8 L600.0,58.6 L601.0,58.4 L602.0,58.2 L603.0,57.9 L604.0,57.7 L605.0,57.5 L606.0,57.3 L607.0,57.1 L608.0,56.9 L609.0,56.7 L610.0,56.5 L611.0,56.3 L612.0,56.1 L613.0,55.8 L614.0,55.6 L615.0,55.4 L616.0,55.2 L617.0,55.0 L618.0,54.8 L619.0,54.6 L620.0,54.4 L621.0,54.2 L622.0,54.0 L623.0,53.8 L624.0,53.6 L625.0,53.4 L626.0,53.3 L627.0,53.1 L628.0,52.9 L629.0,52.7 L630.0,52.5 L631.0,52.3 L632.0,52.1 L633.0,51.9 L634.0,51.8 L635.0,51.6 L636.0,51.4 L637.0,51.2 L638.0,51.0 L639.0,50.9 L640.0,50.7 L641.0,50.5 L642.0,50.3 L643.0,50.2 L644.0,50.0 L645.0,49.8 L646.0,49.7 L647.0,49.5 L648.0,49.3 L649.0,49.2 L650.0,49.0 L651.0,48.9 L652.0,48.7 L653.0,48.6 L654.0,48.4 L655.0,48.2 L656.0,48.1 L657.0,47.9 L658.0,47.8 L659.0,47.7 L660.0,47.5 L661.0,47.4 L662.0,47.2 L662.4,47.2" stroke="#00ff00" stroke-dasharray="5.5 2.2"/>
<path d="M115.0,274.1 L116.0,273.9 L117.0,273.7 L118.0,273.4 L119.0,273.2 L120.0,273.0 L121.0,272.7 L122.0,272.5 L123.0,272.3 L124.0,272.0 L125.0,271.8 L126.0,271.6 L127.0,271.3 L128.0,271.1 L129.0,270.9 L130.0,270.7 L131.0,270.4 L132.0,270.2 L133.0,270.0 L134.0,269.7 L135.0,269.5 L136.0,269.3 L137.0,269.0 L138.0,268.8 L139.0,268.6 L140.0,268.3 L141.0,268.1 L142.0,267.9 L143.0,267.7 L144.0,267.4 L145.0,267.2 L146.0,267.0 L147.0,266.7 L148.0,266.5 L149.0,266.3 L150.0,266.0 L151.0,265.8 L152.0,265.6 L153.0,265.4 L154.0,265.1 L155.0,264.9 L156.0,264.7 L157.0,264.5 L158.0,264.2 L159.0,264.0 L160.0,263.8 L161.0,263.6 L162.0,263.3 L163.0,263.1 L164.0,262.9 L165.0,262.7 L166.0,262.4 L167.0,262.2 L168.0,262.0 L169.0,261.8 L170.0,261.5 L171.0,261.3 L172.0,261.1 L173.0,260.9 L174.0,260.7 L175.0,260.5 L176.0,260.2 L177.0,260.0 L178.0,259.8 L179.0,259.6 L180.0,259.4 L181.0,259.2 L182.0,258.9 L183.0,258.7 L184.0,258.5 L185.0,258.3 L186.0,258.1 L187.0,257.9 L188.0,257.7 L189.0,257.5 L190.0,257.3 L191.0,257.1 L192.0,256.9 L193.0,256.7 L194.0,256.5 L195.0,256.2 L196.0,256.0 L197.0,255.8 L198.0,255.6 L199.0,255.4 L200.0,255.2 L201.0,255.1 L202.0,254.9 L203.0,254.7 L204.0,254.5 L205.0,254.3 L206.0,254.1 L207.0,253.9 L208.0,253.7 L209.0,253.5 L210.0,253.3 L211.0,253.1 L212.0,253.0 L213.0,252.8 L214.0,252.6 L215.0,252.4 L216.0,252.2 L217.0,252.1 L218.0,251.9 L219.0,251.7 L220.0,251.5 L221.0,251.3 L222.0,251.2 L223.0,251.0 L224.0,250.8 L225.0,250.7 L226.0,250.5 L227.0,250.3 L228.0,250.2 L229.0,250.0 L230.0,249.8 L231.0,249.7 L232.0,249.5 L233.0,249.4 L234.0,249.2 L235.0,249.1 L236.0,248.9 L237.0,248.8 L238.0,248.6 L239.0,248.5 L240.0,248.3 L241.0,248.2 L242.0,248.0 L243.0,247.9 L244.0,247.7 L245.0,247.6 L246.0,247.5 L247.0,247.3 L248.0,247.2 L249.0,247.1 L250.0,246.9 L251.0,246.8 L252.0,246.7 L253.0,246.6 L254.0,246.4 L255.0,246.3 L256.0,246.2 L257.0,246.1 L258.0,246.0 L259.0,245.8 L260.0,245.7 L261.0,245.6 L262.0,245.5 L263.0,245.4 L264.0,245.3 L265.0,245.2 L266.0,245.1 L267.0,245.0 L268.0,244.9 L269.0,244.8 L270.0,244.7 L271.0,244.6 L272.0,244.5 L273.0,244.4 L274.0,244.4 L275.0,244.3 L276.0,244.2 L277.0,244.1 L278.0,244.0 L279.0,244.0 L280.0,243.9 L281.0,243.8 L282.0,243.7 L283.0,243.7 L284.0,243.6 L285.0,243.6 L286.0,243.5 L287.0,243.4 L288.0,243.4 L289.0,243.3 L290.0,243.3 L291.0,243.2 L292.0,243.2 L293.0,243.1 L294.0,243.1 L295.0,243.1 L296.0,243.0 L297.0,243.0 L298.0,243.0 L299.0,242.9 L300.0,242.9 L301.0,242.9 L302.0,242.9 L303.0,242.8 L304.0,242.8 L305.0,242.8 L306.0,242.8 L307.0,242.8 L308.0,242.8 L309.0,242.8 L310.0,242.8 L311.0,242.8 L312.0,242.8 L313.0,242.8 L314.0,242.8 L315.0,242.8 L316.0,242.8 L317.0,242.8 L318.0,242.9 L319.0,242.9 L320.0,242.9 L321.0,242.9 L322.0,243.0 L323.0,243.0 L324.0,243.0 L325.0,243.1 L326.0,243.1 L327.0,243.2 L328.0,243.2 L329.0,243.3 L330.0,243.3 L331.0,243.4 L332.0,243.4 L333.0,243.5 L334.0,243.5 L335.0,243.6 L336.0,243.7 L337.0,243.8 L338.0,243.8 L339.0,243.9 L340.0,244.0 L341.0,244.1 L342.0,244.2 L343.0,244.3 L344.0,244.4 L345.0,244.5 L346.0,244.6 L347.0,244.7 L348.0,244.8 L349.0,244.9 L350.0,245.0 L351.0,245.1 L352.0,245.2 L353.0,245.3 L354.0,245.5 L355.0,245.6 L356.0,245.7 L357.0,245.9 L358.0,246.0 L359.0,246.2 L360.0,246.3 L361.0,246.4 L362.0,246.6 L363.0,246.8 L364.0,246.9 L365.0,247.1 L366.0,247.2 L367.0,247.4 L368.0,247.6 L369.0,247.8 L370.0,247.9 L371.0,248.1 L372.0,248.3 L373.0,248.5 L374.0,248.7 L375.0,248.9 L376.0,249.1 L377.0,249.3 L378.0,249.5 L379.0,249.7 L380.0,249.9 L381.0,250.1 L382.0,250.4 L383.0,250.6 L384.0,250.8 L385.0,251.1 L386.0,251.3 L387.0,251.6 L388.0,251.8 L389.0,252.1 L390.0,252.3 L391.0,252.6 L392.0,252.9 L393.0,253.2 L394.0,253.4 L395.0,253.7 L396.0,254.0 L397.0,254.3 L398.0,254.7 L399.0,255.0 L400.0,255.3 L401.0,255.5 L402.0,255.7 L403.0,255.9 L404.0,256.0 L405.0,256.0 L406.0,255.9 L407.0,255.7 L408.0,255.6 L409.0,255.4 L410.0,255.4 L411.0,255.4 L412.0,255.6 L413.0,255.9 L414.0,256.3 L415.0,256.7 L416.0,257.3 L417.0,257.8 L418.0,258.4 L419.0,258.9 L420.0,259.4 L421.0,259.9 L422.0,260.3 L423.0,260.7 L424.0,261.1 L425.0,261.4 L426.0,261.7 L427.0,261.9 L428.0,262.1 L429.0,262.3 L430.0,262.4 L431.0,262.6 L432.0,262.7 L433.0,262.8 L434.0,262.9 L435.0,263.0 L436.0,263.2 L437.0,263.3 L438.0,263.4 L439.0,263.6 L440.0,263.7 L441.0,263.9 L442.0,264.1 L443.0,264.4 L444.0,264.8 L445.0,265.2 L446.0,265.8 L447.0,266.4 L448.0,267.2 L449.0,267.9 L450.0,268.7 L451.0,269.4 L452.0,269.9 L453.0,270.4 L454.0,270.7 L455.0,270.8 L456.0,270.9 L457.0,270.8 L458.0,270.7 L459.0,270.4 L460.0,270.2 L461.0,269.9 L462.0,269.6 L463.0,269.4 L464.0,269.5 L465.0,269.8 L466.0,270.5 L467.0,271.5 L468.0,272.6 L469.0,273.8 L470.0,274.9 L471.0,275.9 L472.0,276.9 L473.0,277.7 L474.0,278.3 L475.0,278.7 L476.0,278.8 L477.0,278.8 L478.0,278.5 L479.0,278.1 L480.0,277.7 L481.0,277.5 L482.0,277.3 L483.0,277.5 L484.0,278.0 L485.0,278.9 L486.0,280.2 L487.0,281.7 L488.0,283.1 L489.0,284.3 L490.0,285.3 L491.0,286.1 L492.0,286.7 L493.0,287.1 L494.0,287.3 L495.0,287.2 L496.0,287.0 L497.0,286.7 L498.0,286.3 L499.0,286.0 L500.0,285.9 L501.0,285.9 L502.0,286.1 L503.0,286.5 L504.0,286.9 L505.0,287.4 L506.0,288.0 L507.0,288.5 L508.0,289.1 L509.0,289.6 L510.0,290.1 L511.0,290.6 L512.0,291.1 L513.0,291.5 L514.0,291.8 L515.0,292.1 L516.0,292.4 L517.0,292.5 L518.0,292.6 L519.0,292.6 L520.0,292.6 L521.0,292.6 L522.0,292.5 L523.0,292.6 L524.0,292.6 L525.0,292.8 L526.0,293.2 L527.0,293.6 L528.0,294.3 L529.0,295.1 L530.0,296.0 L531.0,296.9 L532.0,297.8 L533.0,298.4 L534.0,298.9 L535.0,299.2 L536.0,299.4 L537.0,299.5 L538.0,299.7 L539.0,299.8 L540.0,300.0 L541.0,300.3 L542.0,300.8 L543.0,301.4 L544.0,302.1 L545.0,302.8 L546.0,303.3 L547.0,303.8 L548.0,304.0 L549.0,304.0 L550.0,303.9 L551.0,303.7 L552.0,303.5 L553.0,303.4 L554.0,303.6 L555.0,304.1 L556.0,304.8 L557.0,305.7 L558.0,306.7 L559.0,307.7 L560.0,308.6 L561.0,309.2 L562.0,309.7 L563.0,309.9 L564.0,310.1 L565.0,310.2 L566.0,310.2 L567.0,310.2 L568.0,310.2 L569.0,310.2 L570.0,310.3 L571.0,310.6 L572.0,310.9 L573.0,311.3 L574.0,311.7 L575.0,312.2 L576.0,312.6 L577.0,313.1 L578.0,313.5 L579.0,313.8 L580.0,314.0 L581.0,314.2 L582.0,314.4 L583.0,314.6 L584.0,314.8 L585.0,315.2 L586.0,315.7 L587.0,316.3 L588.0,316.8 L589.0,317.4 L590.0,317.9 L591.0,318.4 L592.0,318.8 L593.0,319.2 L594.0,319.5 L595.0,319.8 L596.0,320.1 L597.0,320.3 L598.0,320.5 L599.0,320.7 L600.0,320.9 L601.0,321.0 L602.0,321.2 L603.0,321.4 L604.0,321.6 L605.0,321.8 L606.0,322.1 L607.0,322.4 L608.0,322.7 L609.0,323.1 L610.0,323.5 L611.0,323.9 L612.0,324.2 L613.0,324.5 L614.0,324.7 L615.0,324.8 L616.0,324.9 L617.0,325.0 L618.0,325.2 L619.0,325.3 L620.0,325.6 L621.0,325.9 L622.0,326.4 L623.0,326.9 L624.0,327.4 L625.0,327.9 L626.0,328.4 L627.0,328.8 L628.0,329.2 L629.0,329.5 L630.0,329.9 L631.0,330.1 L632.0,330.4 L633.0,330.6 L634.0,330.8 L635.0,331.0 L636.0,331.2 L637.0,331.4 L638.0,331.6 L639.0,331.9 L640.0,332.1 L641.0,332.4 L642.0,332.6 L643.0,332.9 L644.0,333.2 L645.0,333.5 L646.0,333.9 L647.0,334.2 L648.0,334.5 L649.0,334.8 L650.0,335.2 L651.0,335.5 L652.0,335.9 L653.0,336.2 L654.0,336.5 L655.0,336.9 L656.0,337.2 L657.0,337.5 L658.0,337.8 L659.0,338.1 L660.0,338.4 L661.0,338.7 L662.0,339.0 L662.8,339.2" stroke="#ff8000" stroke-dasharray="5.5 2.2"/>
</g>
<g fill="none" stroke="#989898">
<rect x="92.5" y="4.5" width="581.0" height="359.5" stroke-width="1"/>
<path d="M187.82,364.0 v-6.0 M187.82,4.5 v6.0 M242.70,364.0 v-6.0 M242.70,4.5 v6.0 M370.12,364.0 v-6.0 M370.12,4.5 v6.0 M425.00,364.0 v-6.0 M425.00,4.5 v6.0 M552.42,364.0 v-6.0 M552.42,4.5 v6.0 M607.30,364.0 v-6.0 M607.30,4.5 v6.0 M92.5,330.29 h6.0 M673.5,330.29 h-6.0 M92.5,280.15 h6.0 M673.5,280.15 h-6.0 M92.5,230.01 h6.0 M673.5,230.01 h-6.0 M92.5,179.87 h6.0 M673.5,179.87 h-6.0 M92.5,129.73 h6.0 M673.5,129.73 h-6.0 M92.5,79.59 h6.0 M673.5,79.59 h-6.0 M92.5,29.45 h6.0 M673.5,29.45 h-6.0" stroke-width="0.8"/>
<path d="M115.28,364.0 v-3.2 M115.28,4.5 v3.2 M147.38,364.0 v-3.2 M147.38,4.5 v3.2 M170.16,364.0 v-3.2 M170.16,4.5 v3.2 M202.26,364.0 v-3.2 M202.26,4.5 v3.2 M214.46,364.0 v-3.2 M214.46,4.5 v3.2 M225.03,364.0 v-3.2 M225.03,4.5 v3.2 M234.36,364.0 v-3.2 M234.36,4.5 v3.2 M297.58,364.0 v-3.2 M297.58,4.5 v3.2 M329.68,364.0 v-3.2 M329.68,4.5 v3.2 M352.46,364.0 v-3.2 M352.46,4.5 v3.2 M384.56,364.0 v-3.2 M384.56,4.5 v3.2 M396.76,364.0 v-3.2 M396.76,4.5 v3.2 M407.33,364.0 v-3.2 M407.33,4.5 v3.2 M416.66,364.0 v-3.2 M416.66,4.5 v3.2 M479.88,364.0 v-3.2 M479.88,4.5 v3.2 M511.98,364.0 v-3.2 M511.98,4.5 v3.2 M534.76,364.0 v-3.2 M534.76,4.5 v3.2 M566.86,364.0 v-3.2 M566.86,4.5 v3.2 M579.06,364.0 v-3.2 M579.06,4.5 v3.2 M589.63,364.0 v-3.2 M589.63,4.5 v3.2 M598.96,364.0 v-3.2 M598.96,4.5 v3.2 M662.18,364.0 v-3.2 M662.18,4.5 v3.2 M92.5,356.51 h3.2 M673.5,356.51 h-3.2 M92.5,350.24 h3.2 M673.5,350.24 h-3.2 M92.5,345.38 h3.2 M673.5,345.38 h-3.2 M92.5,341.41 h3.2 M673.5,341.41 h-3.2 M92.5,338.06 h3.2 M673.5,338.06 h-3.2 M92.5,335.15 h3.2 M673.5,335.15 h-3.2 M92.5,332.58 h3.2 M673.5,332.58 h-3.2 M92.5,315.20 h3.2 M673.5,315.20 h-3.2 M92.5,306.37 h3.2 M673.5,306.37 h-3.2 M92.5,300.10 h3.2 M673.5,300.10 h-3.2 M92.5,295.24 h3.2 M673.5,295.24 h-3.2 M92.5,291.27 h3.2 M673.5,291.27 h-3.2 M92.5,287.92 h3.2 M673.5,287.92 h-3.2 M92.5,285.01 h3.2 M673.5,285.01 h-3.2 M92.5,282.44 h3.2 M673.5,282.44 h-3.2 M92.5,265.06 h3.2 M673.5,265.06 h-3.2 M92.5,256.23 h3.2 M673.5,256.23 h-3.2 M92.5,249.96 h3.2 M673.5,249.96 h-3.2 M92.5,245.10 h3.2 M673.5,245.10 h-3.2 M92.5,241.13 h3.2 M673.5,241.13 h-3.2 M92.5,237.78 h3.2 M673.5,237.78 h-3.2 M92.5,234.87 h3.2 M673.5,234.87 h-3.2 M92.5,232.30 h3.2 M673.5,232.30 h-3.2 M92.5,214.92 h3.2 M673.5,214.92 h-3.2 M92.5,206.09 h3.2 M673.5,206.09 h-3.2 M92.5,199.82 h3.2 M673.5,199.82 h-3.2 M92.5,194.96 h3.2 M673.5,194.96 h-3.2 M92.5,190.99 h3.2 M673.5,190.99 h-3.2 M92.5,187.64 h3.2 M673.5,187.64 h-3.2 M92.5,184.73 h3.2 M673.5,184.73 h-3.2 M92.5,182.16 h3.2 M673.5,182.16 h-3.2 M92.5,164.78 h3.2 M673.5,164.78 h-3.2 M92.5,155.95 h3.2 M673.5,155.95 h-3.2 M92.5,149.68 h3.2 M673.5,149.68 h-3.2 M92.5,144.82 h3.2 M673.5,144.82 h-3.2 M92.5,140.85 h3.2 M673.5,140.85 h-3.2 M92.5,137.50 h3.2 M673.5,137.50 h-3.2 M92.5,134.59 h3.2 M673.5,134.59 h-3.2 M92.5,132.02 h3.2 M673.5,132.02 h-3.2 M92.5,114.64 h3.2 M673.5,114.64 h-3.2 M92.5,105.81 h3.2 M673.5,105.81 h-3.2 M92.5,99.54 h3.2 M673.5,99.54 h-3.2 M92.5,94.68 h3.2 M673.5,94.68 h-3.2 M92.5,90.71 h3.2 M673.5,90.71 h-3.2 M92.5,87.36 h3.2 M673.5,87.36 h-3.2 M92.5,84.45 h3.2 M673.5,84.45 h-3.2 M92.5,81.88 h3.2 M673.5,81.88 h-3.2 M92.5,64.50 h3.2 M673.5,64.50 h-3.2 M92.5,55.67 h3.2 M673.5,55.67 h-3.2 M92.5,49.40 h3.2 M673.5,49.40 h-3.2 M92.5,44.54 h3.2 M673.5,44.54 h-3.2 M92.5,40.57 h3.2 M673.5,40.57 h-3.2 M92.5,37.22 h3.2 M673.5,37.22 h-3.2 M92.5,34.31 h3.2 M673.5,34.31 h-3.2 M92.5,31.74 h3.2 M673.5,31.74 h-3.2 M92.5,14.36 h3.2 M673.5,14.36 h-3.2 M92.5,5.53 h3.2 M673.5,5.53 h-3.2" stroke-width="0.7" stroke="#9c9c9c"/>
</g>
<g font-size="24" fill="#000" stroke="#000" stroke-width="0.35" stroke-linejoin="round">
<text transform="translate(181.55,387.70) scale(0.94,1)" font-size="24">5</text>
<path d="M763,0H583V-1147Q518,-1085 412.5,-1023Q307,-961 223,-930V-1104Q374,-1175 487,-1276Q600,-1377 647,-1472H763Z" stroke="none" transform="translate(230.26,387.70) scale(0.01123)"/><text transform="translate(242.70,387.70) scale(0.94,1)" font-size="24">0</text>
<text transform="translate(357.58,387.70) scale(0.94,1)" font-size="24">5</text><text transform="translate(370.12,387.70) scale(0.94,1)" font-size="24">0</text>
<path d="M763,0H583V-1147Q518,-1085 412.5,-1023Q307,-961 223,-930V-1104Q374,-1175 487,-1276Q600,-1377 647,-1472H763Z" stroke="none" transform="translate(406.28,387.70) scale(0.01123)"/><text transform="translate(418.73,387.70) scale(0.94,1)" font-size="24">0</text><text transform="translate(431.27,387.70) scale(0.94,1)" font-size="24">0</text>
<text transform="translate(533.61,387.70) scale(0.94,1)" font-size="24">5</text><text transform="translate(546.15,387.70) scale(0.94,1)" font-size="24">0</text><text transform="translate(558.69,387.70) scale(0.94,1)" font-size="24">0</text>
<path d="M763,0H583V-1147Q518,-1085 412.5,-1023Q307,-961 223,-930V-1104Q374,-1175 487,-1276Q600,-1377 647,-1472H763Z" stroke="none" transform="translate(582.31,387.70) scale(0.01123)"/><text transform="translate(594.76,387.70) scale(0.94,1)" font-size="24">0</text><text transform="translate(607.30,387.70) scale(0.94,1)" font-size="24">0</text><text transform="translate(619.84,387.70) scale(0.94,1)" font-size="24">0</text>
<path d="M763,0H583V-1147Q518,-1085 412.5,-1023Q307,-961 223,-930V-1104Q374,-1175 487,-1276Q600,-1377 647,-1472H763Z" stroke="none" transform="translate(44.50,36.90) scale(0.01123)"/><text transform="translate(56.94,36.90) scale(0.94,1)" font-size="24">0</text><rect x="71.5" y="23.65" width="7.0" height="1.5" stroke="none"/><text transform="translate(79.7,28.70) scale(0.94,1)" font-size="16.5">3</text>
<path d="M763,0H583V-1147Q518,-1085 412.5,-1023Q307,-961 223,-930V-1104Q374,-1175 487,-1276Q600,-1377 647,-1472H763Z" stroke="none" transform="translate(44.50,87.80) scale(0.01123)"/><text transform="translate(56.94,87.80) scale(0.94,1)" font-size="24">0</text><rect x="71.5" y="73.85" width="7.0" height="1.5" stroke="none"/><text transform="translate(79.7,78.90) scale(0.94,1)" font-size="16.5">4</text>
<path d="M763,0H583V-1147Q518,-1085 412.5,-1023Q307,-961 223,-930V-1104Q374,-1175 487,-1276Q600,-1377 647,-1472H763Z" stroke="none" transform="translate(44.50,137.80) scale(0.01123)"/><text transform="translate(56.94,137.80) scale(0.94,1)" font-size="24">0</text><rect x="71.5" y="123.85" width="7.0" height="1.5" stroke="none"/><text transform="translate(79.7,128.90) scale(0.94,1)" font-size="16.5">5</text>
<path d="M763,0H583V-1147Q518,-1085 412.5,-1023Q307,-961 223,-930V-1104Q374,-1175 487,-1276Q600,-1377 647,-1472H763Z" stroke="none" transform="translate(44.50,188.10) scale(0.01123)"/><text transform="translate(56.94,188.10) scale(0.94,1)" font-size="24">0</text><rect x="71.5" y="174.35" width="7.0" height="1.5" stroke="none"/><text transform="translate(79.7,179.40) scale(0.94,1)" font-size="16.5">6</text>
<path d="M763,0H583V-1147Q518,-1085 412.5,-1023Q307,-961 223,-930V-1104Q374,-1175 487,-1276Q600,-1377 647,-1472H763Z" stroke="none" transform="translate(44.50,238.50) scale(0.01123)"/><text transform="translate(56.94,238.50) scale(0.94,1)" font-size="24">0</text><rect x="71.5" y="224.55" width="7.0" height="1.5" stroke="none"/><text transform="translate(79.7,229.60) scale(0.94,1)" font-size="16.5">7</text>
<path d="M763,0H583V-1147Q518,-1085 412.5,-1023Q307,-961 223,-930V-1104Q374,-1175 487,-1276Q600,-1377 647,-1472H763Z" stroke="none" transform="translate(44.50,288.50) scale(0.01123)"/><text transform="translate(56.94,288.50) scale(0.94,1)" font-size="24">0</text><rect x="71.5" y="274.35" width="7.0" height="1.5" stroke="none"/><text transform="translate(79.7,279.40) scale(0.94,1)" font-size="16.5">8</text>
<path d="M763,0H583V-1147Q518,-1085 412.5,-1023Q307,-961 223,-930V-1104Q374,-1175 487,-1276Q600,-1377 647,-1472H763Z" stroke="none" transform="translate(44.50,338.90) scale(0.01123)"/><text transform="translate(56.94,338.90) scale(0.94,1)" font-size="24">0</text><rect x="71.5" y="324.75" width="7.0" height="1.5" stroke="none"/><text transform="translate(79.7,329.80) scale(0.94,1)" font-size="16.5">9</text>
<rect x="382.1" y="404" width="2" height="16.2" stroke="none"/>
</g>
<g fill="#000" stroke="#000" stroke-width="0.2">
<path d="M691,169.7 h19.3" stroke="#000" stroke-width="1.6" fill="none"/>
<text><tspan x="726.0" y="175.7" font-size="8.6" font-style="italic">l</tspan><tspan x="728.3" y="168.6" font-size="8.6">Δ</tspan><tspan x="735.3" y="168.6" font-size="8.6">,</tspan><tspan x="737.6" y="168.6" font-size="8.6" font-style="italic">κ</tspan><tspan x="746.4" y="173.8" font-size="12.3">cross</tspan><tspan x="779.9" y="173.8" font-size="12.3">[</tspan><tspan x="783.2" y="173.8" font-size="12.3" font-style="italic">f</tspan><tspan x="787.1" y="175.7" font-size="8.6">5</tspan><tspan x="792.3" y="173.8" font-size="12.3">]</tspan><tspan x="795.2" y="173.8" font-size="12.3">−</tspan><tspan x="803.1" y="173.8" font-size="12.3">[</tspan><tspan x="806.7" y="173.8" font-size="12.3" font-style="italic">b</tspan><tspan x="812.7" y="175.7" font-size="8.6">4</tspan><tspan x="818.9" y="173.8" font-size="12.3">]</tspan></text>
<text transform="translate(717.4,173.8) scale(0.87,1)" font-size="12.6" font-style="italic">C</text>
<path d="M691,192.1 h19.3" stroke="#ff00ff" stroke-width="1.6" fill="none"/>
<text><tspan x="726.0" y="197.7" font-size="8.6" font-style="italic">l</tspan><tspan x="728.7" y="190.6" font-size="8.6" font-style="italic">δ</tspan><tspan x="734.5" y="190.6" font-size="8.6">,</tspan><tspan x="736.8" y="190.6" font-size="8.6" font-style="italic">κ</tspan><tspan x="745.5" y="195.8" font-size="12.3">cross</tspan><tspan x="779.0" y="195.8" font-size="12.3">[</tspan><tspan x="782.3" y="195.8" font-size="12.3" font-style="italic">f</tspan><tspan x="786.2" y="197.7" font-size="8.6">5</tspan><tspan x="791.4" y="195.8" font-size="12.3">]</tspan><tspan x="794.3" y="195.8" font-size="12.3">−</tspan><tspan x="802.2" y="195.8" font-size="12.3">[</tspan><tspan x="805.8" y="195.8" font-size="12.3" font-style="italic">b</tspan><tspan x="811.8" y="197.7" font-size="8.6">4</tspan><tspan x="818.0" y="195.8" font-size="12.3">]</tspan></text>
<text transform="translate(717.4,195.8) scale(0.87,1)" font-size="12.6" font-style="italic">C</text>
<path d="M691,214.3 h19.3" stroke="#0000ff" stroke-width="1.6" fill="none"/>
<text><tspan x="726.0" y="219.7" font-size="8.6" font-style="italic">l</tspan><tspan x="728.5" y="212.6" font-size="8.6">rsd</tspan><tspan x="740.3" y="212.6" font-size="8.6">,</tspan><tspan x="743.0" y="212.6" font-size="8.6" font-style="italic">κ</tspan><tspan x="752.3" y="217.8" font-size="12.3">cross</tspan><tspan x="785.8" y="217.8" font-size="12.3">[</tspan><tspan x="789.1" y="217.8" font-size="12.3" font-style="italic">f</tspan><tspan x="793.0" y="219.7" font-size="8.6">5</tspan><tspan x="798.2" y="217.8" font-size="12.3">]</tspan><tspan x="801.1" y="217.8" font-size="12.3">−</tspan><tspan x="809.0" y="217.8" font-size="12.3">[</tspan><tspan x="812.6" y="217.8" font-size="12.3" font-style="italic">b</tspan><tspan x="818.6" y="219.7" font-size="8.6">4</tspan><tspan x="824.8" y="217.8" font-size="12.3">]</tspan></text>
<text transform="translate(717.4,217.8) scale(0.87,1)" font-size="12.6" font-style="italic">C</text>
<path d="M691,235.0 h19.3" stroke="#00ff00" stroke-width="1.6" fill="none"/>
<text><tspan x="716.8" y="238.8" font-size="12.3">−</tspan><tspan x="723.9" y="238.8" font-size="12.3">2</tspan><tspan x="739.7" y="240.7" font-size="8.6" font-style="italic">l</tspan><tspan x="743.0" y="233.6" font-size="8.6" font-style="italic">κ</tspan><tspan x="747.7" y="233.6" font-size="8.6">,</tspan><tspan x="750.3" y="233.6" font-size="8.6" font-style="italic">κ</tspan><tspan x="759.4" y="238.8" font-size="12.3">cross</tspan><tspan x="792.9" y="238.8" font-size="12.3">[</tspan><tspan x="796.2" y="238.8" font-size="12.3" font-style="italic">f</tspan><tspan x="800.1" y="240.7" font-size="8.6">5</tspan><tspan x="805.3" y="238.8" font-size="12.3">]</tspan><tspan x="808.2" y="238.8" font-size="12.3">−</tspan><tspan x="816.1" y="238.8" font-size="12.3">[</tspan><tspan x="819.7" y="238.8" font-size="12.3" font-style="italic">b</tspan><tspan x="825.7" y="240.7" font-size="8.6">4</tspan><tspan x="831.9" y="238.8" font-size="12.3">]</tspan></text>
<text transform="translate(731.0,238.8) scale(0.87,1)" font-size="12.6" font-style="italic">C</text>
<path d="M691,257.3 h19.3" stroke="#ff8000" stroke-width="1.6" fill="none"/>
<text><tspan x="726.0" y="262.7" font-size="8.6" font-style="italic">l</tspan><tspan x="728.4" y="255.6" font-size="8.6">ls</tspan><tspan x="735.3" y="255.6" font-size="8.6">,</tspan><tspan x="737.6" y="255.6" font-size="8.6" font-style="italic">κ</tspan><tspan x="746.5" y="260.8" font-size="12.3">cross</tspan><tspan x="780.0" y="260.8" font-size="12.3">[</tspan><tspan x="783.3" y="260.8" font-size="12.3" font-style="italic">f</tspan><tspan x="787.2" y="262.7" font-size="8.6">5</tspan><tspan x="792.4" y="260.8" font-size="12.3">]</tspan><tspan x="795.3" y="260.8" font-size="12.3">−</tspan><tspan x="803.2" y="260.8" font-size="12.3">[</tspan><tspan x="806.8" y="260.8" font-size="12.3" font-style="italic">b</tspan><tspan x="812.8" y="262.7" font-size="8.6">4</tspan><tspan x="819.0" y="260.8" font-size="12.3">]</tspan></text>
<text transform="translate(717.4,260.8) scale(0.87,1)" font-size="12.6" font-style="italic">C</text>
</g>
<g fill="#000" stroke="#000" stroke-width="0.3">
<text transform="translate(12.2,227.4) rotate(-90) scale(0.94,1)" font-size="16.0" font-style="italic">l</text>
<text transform="translate(12.2,224.1) rotate(-90) scale(0.94,1)" font-size="16.0">(</text>
<text transform="translate(12.2,218.7) rotate(-90) scale(0.94,1)" font-size="16.0" font-style="italic">l</text>
<text transform="translate(12.2,211.3) rotate(-90) scale(0.94,1)" font-size="16.0">+</text>
<path d="M763,0H583V-1147Q518,-1085 412.5,-1023Q307,-961 223,-930V-1104Q374,-1175 487,-1276Q600,-1377 647,-1472H763Z" stroke="none" transform="translate(12.20,203.10) rotate(-90) scale(0.00762)"/>
<text transform="translate(12.2,194.7) rotate(-90) scale(0.94,1)" font-size="16.0">)</text>
<path d="M15.55,187.0 V228.4" stroke="#000" stroke-width="1.4" fill="none"/>
<text transform="translate(36.6,221.0) rotate(-90) scale(0.94,1)" font-size="16.0">2</text>
<text transform="translate(36.6,208.0) rotate(-90) scale(0.94,1)" font-size="16.0" font-style="italic">π</text>
<text transform="translate(24.3,183.7) rotate(-90) scale(0.94,1)" font-size="23.4">C</text>
<text transform="translate(27.4,167.0) rotate(-90) scale(0.94,1)" font-size="16.0" font-style="italic">l</text>
<text transform="translate(15.2,162.8) rotate(-90) scale(0.94,1)" font-size="16.0" font-style="italic">X</text>
<text transform="translate(15.2,150.3) rotate(-90) scale(0.94,1)" font-size="16.0">,</text>
<text transform="translate(15.2,145.7) rotate(-90) scale(0.94,1)" font-size="16.0" font-style="italic">κ</text>
</g>
</svg>
</body></html>
